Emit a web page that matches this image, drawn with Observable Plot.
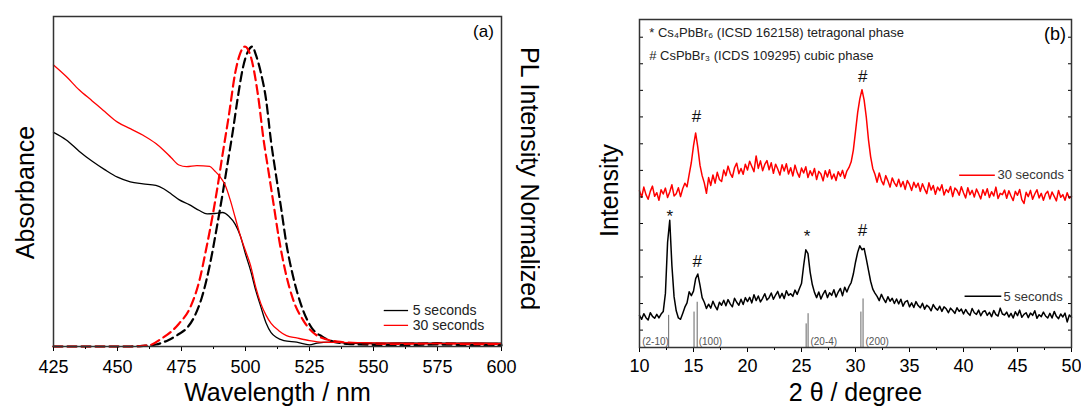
<!DOCTYPE html>
<html><head><meta charset="utf-8">
<script src="https://cdn.jsdelivr.net/npm/d3@7"></script>
<script src="https://cdn.jsdelivr.net/npm/@observablehq/plot@0.6"></script>
<style>
html,body{margin:0;padding:0;background:#fff;}
#wrap{position:relative;width:1081px;height:407px;overflow:hidden;}
#pa{position:absolute;left:0;top:0;}
#pb{position:absolute;left:540px;top:0;}
</style></head><body><div id="wrap"><div id="pa"></div><div id="pb"></div></div>
<script>
const FONT = "'Liberation Sans', Arial, sans-serif";

// ---------- Panel (a): absorbance + PL ----------
const absWl5 = [425,430,435,440,445,450,455,460,465,468,471,474,478,482,485,488,491,493.5,496,498,500,502,504,506,508,510,512,515,520,525,528,533,540,550,560,575,590,600];
const abs5   = [0.649,0.626,0.592,0.562,0.536,0.513,0.499,0.493,0.488,0.478,0.462,0.445,0.43,0.412,0.402,0.403,0.406,0.395,0.37,0.335,0.28,0.23,0.17,0.12,0.072,0.042,0.028,0.018,0.013,0.005,0.01,0.013,0.011,0.01,0.011,0.01,0.011,0.01];
const absWl30 = [425,430,435,440,445,450,455,460,465,468,471,474,477,481,486,488,490,492,494,496,498,500,502,504,506,508,510,513,516,520,525,530,540,550,560,575,590,600];
const abs30   = [0.853,0.818,0.778,0.745,0.712,0.68,0.66,0.64,0.615,0.595,0.572,0.55,0.545,0.548,0.546,0.532,0.515,0.49,0.445,0.39,0.335,0.29,0.245,0.18,0.13,0.095,0.07,0.048,0.033,0.026,0.018,0.013,0.012,0.011,0.01,0.009,0.01,0.009];
const plWl5 = [425,455,460,465,470,474,477,480,483,486,489,491,493,495,497,499,501,502.7,504,506,508,510,512,514,516,518.5,522,526,530,533,540,550,560,575,590,600];
const pl5   = [0,0,0.002,0.006,0.02,0.038,0.055,0.09,0.15,0.245,0.37,0.46,0.555,0.65,0.755,0.845,0.895,0.909,0.885,0.83,0.75,0.62,0.515,0.415,0.31,0.215,0.12,0.055,0.03,0.018,0.008,0.005,0.004,0.006,0.004,0.004];
const plWl30 = [425,455,460,463,467,471,474,478.5,482,484.5,487,489,491,493.5,496,498,499.8,502,505,507,509,511,513,515.5,518.7,522.5,528,536,545,560,575,590,600];
const pl30   = [0,0,0.002,0.005,0.023,0.045,0.069,0.12,0.2,0.29,0.39,0.48,0.58,0.7,0.83,0.89,0.909,0.88,0.755,0.63,0.53,0.43,0.33,0.23,0.14,0.08,0.033,0.015,0.01,0.008,0.01,0.007,0.008];
const xMajorA = [425,450,475,500,525,550,575,600];
const xMinorA = [437.5,462.5,487.5,512.5,537.5,562.5,587.5];
const seriesNames = ["5 seconds","30 seconds"];
const seriesColors = ["black","red"];

// ---------- Panel (b): XRD ----------
const xrdStart = 10, xrdStep = 0.2;
const xrd5 = [
9.8,8.6,10.3,9.1,8.4,10.6,9.5,8.9,10.1,9.0,
10.2,11.0,16.5,32.0,38.8,25.0,15.5,11.2,9.0,8.6,
10.4,12.3,13.6,17.0,15.8,17.2,21.0,22.4,19.0,15.2,
13.8,11.9,13.2,12.0,14.1,12.6,11.5,13.8,12.9,14.4,
12.7,14.6,13.3,12.4,15.0,13.8,12.9,14.7,13.1,15.2,
14.0,15.3,13.6,16.1,14.3,15.7,13.9,15.0,16.4,14.5,
15.2,16.6,14.7,16.0,17.1,15.1,16.5,14.9,17.3,15.9,
16.4,15.6,17.5,16.2,17.9,19.5,25.0,29.8,28.6,23.0,
19.2,16.8,15.2,16.9,14.8,16.3,17.4,15.2,16.7,15.9,
17.6,15.4,16.9,18.0,15.8,18.4,16.9,18.6,19.8,22.4,
26.0,29.0,31.0,29.8,30.2,27.0,23.6,20.2,17.8,16.6,
15.6,14.3,16.2,14.8,13.7,15.5,14.1,15.0,13.4,14.8,
13.3,14.7,12.6,13.9,14.3,12.4,13.6,12.2,14.0,12.8,
12.1,13.5,11.7,12.9,12.3,11.2,13.1,12.0,11.4,12.6,
11.0,12.4,11.8,10.6,12.0,11.3,10.4,12.1,11.0,11.7,
10.2,11.6,10.5,9.8,11.9,10.6,10.1,11.4,9.7,10.9,
11.2,9.8,10.7,9.4,11.3,10.0,9.6,12.0,10.2,9.9,
10.8,9.3,10.4,9.0,10.9,9.7,11.4,9.2,10.1,10.6,
9.1,10.5,9.8,11.2,8.9,10.0,9.4,10.8,9.6,9.0,
10.4,9.0,11.0,9.5,8.8,10.2,9.3,10.5,7.8,9.9,
9.2];
const xrd30 = [
47.8,45.8,48.9,46.6,45.2,47.6,49.2,46.1,47.2,44.9,
48.1,46.8,48.6,45.7,47.4,49.6,46.2,46.9,48.7,46.0,
48.4,50.1,49.0,52.8,56.4,61.5,65.4,61.0,55.6,52.4,
50.2,47.0,51.8,49.4,52.6,50.1,53.4,51.2,50.6,54.1,
52.4,55.3,53.1,51.9,54.8,56.2,53.0,54.6,52.8,55.9,
54.1,56.8,55.2,53.6,58.4,54.6,56.9,53.9,55.8,57.0,
54.2,56.3,53.1,55.9,54.4,52.6,55.7,53.8,56.0,52.9,
54.8,52.3,55.6,53.4,51.9,54.7,53.2,55.1,51.8,53.9,
52.4,54.6,51.2,53.7,52.9,50.8,53.9,52.0,54.2,51.4,
52.9,50.9,53.6,52.2,54.0,51.6,53.8,54.9,56.6,60.2,
65.8,71.6,75.8,78.6,75.4,70.2,63.4,58.2,54.6,52.8,
50.4,53.2,50.9,49.6,52.4,50.8,48.9,51.7,50.2,49.1,
51.3,49.0,50.6,48.2,50.9,49.7,47.9,50.4,48.8,50.1,
47.6,49.9,48.3,46.9,50.2,48.0,49.4,46.7,48.9,47.8,
49.6,46.5,48.2,47.3,49.1,46.0,48.6,47.9,46.4,49.0,
47.2,45.6,48.7,46.6,47.9,45.9,48.3,46.9,45.3,48.1,
46.4,48.4,45.7,47.5,46.2,48.9,45.4,47.0,46.6,48.0,
45.5,47.8,46.2,44.8,47.6,46.4,48.2,45.1,43.9,47.3,
46.0,47.9,45.2,46.8,48.1,45.6,47.0,44.9,46.9,47.6,
45.3,47.4,46.1,44.7,47.9,45.8,46.6,44.9,47.2,45.5,
46.1];
const stickPos    = [12.7, 15.05, 15.34, 25.43, 25.61, 30.5, 30.7];
const stickHeight = [9.8, 10.8, 13.8, 7.2, 10.3, 10.8, 14.8];
const stickLabels = ["(2-10)","(100)","(20-4)","(200)"];
const stickLabelX = [10.25, 15.48, 25.83, 30.93];
const peakSym = ["#","#","*","#","*","#"];
const peakX   = [15.28, 30.68, 12.8, 15.34, 25.52, 30.64];
const peakY   = [70.3, 82.6, 39.8, 26.1, 33.7, 35.7];
const headerLines = ["* Cs\u2084PbBr\u2086 (ICSD 162158) tetragonal phase", "# CsPbBr\u2083 (ICDS 109295) cubic phase"];
const xMajorB = [10,15,20,25,30,35,40,45,50];
const xMinorB = [12.5,17.5,22.5,27.5,32.5,37.5,42.5,47.5];
const yTicksB = [5.3,13.4,21.5,29.7,37.8,45.9,54.0,62.1,70.3,78.4,86.5,94.6];

// ---------- tables ----------
const tbl = (xs, ys) => xs.map((x, i) => ({x, y: ys[i]}));
const xrdTbl = (ys) => ys.map((y, i) => ({x: xrdStart + i * xrdStep, y}));

const styleObj = {fontFamily: FONT, background: "white", color: "black", overflow: "visible"};

const legendA = seriesNames.map((s, i) => ({s, c: seriesColors[i], x1: 554, x2: 563.5, tx: 565.3, y: [0.109, 0.064][i]}));

const left = Plot.plot({
  width: 540, height: 407,
  marginLeft: 53, marginRight: 39, marginTop: 16, marginBottom: 61,
  style: styleObj,
  x: {domain: [425, 600], label: null},
  y: {domain: [0, 1], axis: null},
  marks: [
    Plot.line(tbl(plWl5, pl5), {x: "x", y: "y", stroke: "black", strokeWidth: 2.2, strokeDasharray: "9,5", curve: "monotone-x"}),
    Plot.line(tbl(plWl30, pl30), {x: "x", y: "y", stroke: "red", strokeWidth: 2.2, strokeDasharray: "9,5", curve: "monotone-x"}),
    Plot.line(tbl(absWl5, abs5), {x: "x", y: "y", stroke: "black", strokeWidth: 1.3, curve: "monotone-x"}),
    Plot.line(tbl(absWl30, abs30), {x: "x", y: "y", stroke: "red", strokeWidth: 1.3, curve: "monotone-x"}),
    Plot.link(legendA, {x1: "x1", x2: "x2", y1: "y", y2: "y", stroke: "c", strokeWidth: 1.3}),
    Plot.text(legendA, {x: "tx", y: "y", text: "s", textAnchor: "start", fontSize: 14, fill: "#222"}),
    Plot.text(["(a)"], {x: [597], y: [0.955], textAnchor: "end", fontSize: 17}),
    Plot.axisX({ticks: xMajorA, tickSize: 5, tickPadding: 9, fontSize: 18, label: null}),
    Plot.axisX({ticks: xMinorA, tickSize: 3, fill: "none", label: null}),
    Plot.frame({stroke: "#333", strokeWidth: 1.5}),
    Plot.text(["Absorbance"], {frameAnchor: "left", dx: -28, dy: 11, rotate: -90, fontSize: 25, textAnchor: "middle", lineAnchor: "middle"}),
    Plot.text(["PL Intensity Normalized"], {frameAnchor: "right", dx: 27, dy: -3, rotate: 90, fontSize: 25, textAnchor: "middle", lineAnchor: "middle"}),
    Plot.text(["Wavelength / nm"], {frameAnchor: "bottom", dy: 46.5, fontSize: 25, textAnchor: "middle", lineAnchor: "middle"})
  ]
});
document.getElementById("pa").appendChild(left);

const sticks = stickPos.map((x, i) => ({x, h: stickHeight[i]}));
const sLabels = stickLabels.map((t, i) => ({t, x: stickLabelX[i]}));
const peaks = peakSym.map((t, i) => ({t, x: peakX[i], y: peakY[i]}));
const headers = headerLines.map((t, i) => ({t, y: [95.9, 88.8][i]}));
const legendB = [
  {s: "30 seconds", c: "red", x1: 39.6, x2: 42.9, tx: 43.15, y: 52.5},
  {s: "5 seconds", c: "black", x1: 40.1, x2: 43.5, tx: 43.7, y: 15.6}
];

const right = Plot.plot({
  width: 541, height: 407,
  marginLeft: 99, marginRight: 10, marginTop: 19, marginBottom: 60,
  style: styleObj,
  x: {domain: [10, 50], label: null},
  y: {domain: [0, 100], label: null},
  marks: [
    Plot.ruleX(sticks, {x: "x", y1: 0, y2: "h", stroke: "#666", strokeWidth: 1}),
    Plot.line(xrdTbl(xrd5), {x: "x", y: "y", stroke: "black", strokeWidth: 1.5}),
    Plot.line(xrdTbl(xrd30), {x: "x", y: "y", stroke: "red", strokeWidth: 1.5}),
    Plot.text(sLabels, {x: "x", y: 1.7, text: "t", textAnchor: "start", fontSize: 10, fill: "#555"}),
    Plot.text(peaks, {x: "x", y: "y", text: "t", fontSize: 17, fill: "#111"}),
    Plot.text(headers, {x: 10.9, y: "y", text: "t", textAnchor: "start", fontSize: 13, fill: "#222"}),
    Plot.text(["(b)"], {x: [49.5], y: [95.6], textAnchor: "end", fontSize: 18}),
    Plot.link(legendB, {x1: "x1", x2: "x2", y1: "y", y2: "y", stroke: "c", strokeWidth: 1.5}),
    Plot.text(legendB, {x: "tx", y: "y", text: "s", textAnchor: "start", fontSize: 13, fill: "#333"}),
    Plot.axisX({ticks: xMajorB, tickSize: 5, tickPadding: 7, fontSize: 18, label: null}),
    Plot.axisX({ticks: xMinorB, tickSize: 3, fill: "none", label: null}),
    Plot.axisY({anchor: "left", ticks: yTicksB, tickSize: 4, insetLeft: 4, fill: "none", label: null}),
    Plot.axisY({anchor: "right", ticks: yTicksB, tickSize: 4, insetRight: 4, fill: "none", label: null}),
    Plot.frame({stroke: "#333", strokeWidth: 1.5}),
    Plot.text(["Intensity"], {frameAnchor: "left", dx: -30, dy: 7, rotate: -90, fontSize: 25, textAnchor: "middle", lineAnchor: "middle"}),
    Plot.text(["2 \u03b8 / degree"], {frameAnchor: "bottom", dy: 45, fontSize: 25, textAnchor: "middle", lineAnchor: "middle"})
  ]
});
document.getElementById("pb").appendChild(right);
</script>
</body></html>
